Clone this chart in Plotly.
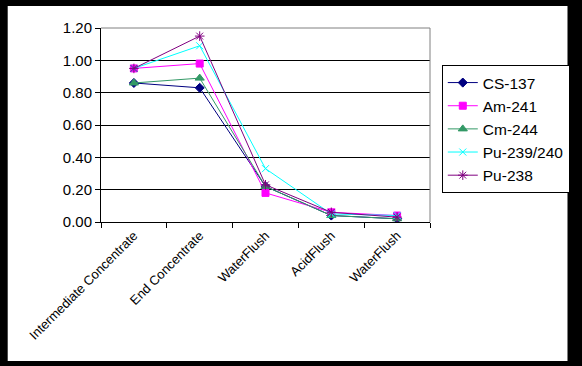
import plotly.graph_objects as go

stages = ["Intermediate Concentrate", "End Concentrate", "WaterFlush", "AcidFlush", "WaterFlush"]
x_pos = [0, 1, 2, 3, 4]

cs137 = [0.86, 0.83, 0.22, 0.04, 0.02]
am241 = [0.95, 0.98, 0.18, 0.06, 0.04]
cm244 = [0.86, 0.89, 0.22, 0.04, 0.02]
pu239 = [0.95, 1.09, 0.33, 0.05, 0.04]
pu238 = [0.95, 1.15, 0.23, 0.06, 0.03]

y_ticks = [0.0, 0.2, 0.4, 0.6, 0.8, 1.0, 1.2]
y_tick_text = ["0.00", "0.20", "0.40", "0.60", "0.80", "1.00", "1.20"]

series = [
    ("CS-137", cs137, "#000080", "diamond", 7),
    ("Am-241", am241, "#FF00FF", "square", 7),
    ("Cm-244", cm244, "#339966", "triangle-up", 8),
    ("Pu-239/240", pu239, "#00FFFF", "x-thin", 7),
    ("Pu-238", pu238, "#800080", "asterisk", 8),
]

fig = go.Figure()
for name, vals, color, sym, sz in series:
    fig.add_trace(go.Scatter(
        x=x_pos, y=vals, name=name, mode="lines+markers",
        line=dict(color=color, width=1),
        marker=dict(symbol=sym, size=sz, color=color,
                    line=dict(color=color, width=1)),
    ))

W, H = 582, 366
L, R, T, B = 101, 436, 28, 222
pw, ph = R - L, B - T

def px_x(p):
    return (p - L) / pw

def px_y(p):
    return (B - p) / ph

shapes = [
    dict(type="rect", xref="paper", yref="paper", layer="below",
         x0=px_x(6), x1=px_x(576), y0=px_y(361), y1=px_y(6),
         fillcolor="white", line=dict(width=0)),
    dict(type="line", xref="paper", yref="paper", x0=0, x1=1, y0=1, y1=1,
         line=dict(color="#808080", width=1)),
    dict(type="line", xref="paper", yref="paper", x0=1, x1=1, y0=0, y1=1,
         line=dict(color="#808080", width=1)),
]

fig.update_layout(
    width=W, height=H,
    margin=dict(l=L, r=W - R, t=T, b=H - B, pad=0),
    paper_bgcolor="black",
    plot_bgcolor="white",
    font=dict(family="Liberation Sans, Arial", color="black"),
    shapes=shapes,
    showlegend=True,
    legend=dict(
        x=px_x(448), y=px_y(65), xanchor="left", yanchor="top",
        bgcolor="white", bordercolor="black", borderwidth=1,
        font=dict(size=15.5, color="black"),
        tracegroupgap=0,
    ),
    xaxis=dict(
        range=[-0.5, 4.5], tickmode="array", tickvals=x_pos, ticktext=stages,
        tickangle=-45, tickfont=dict(size=13),
        ticks="", showgrid=False, zeroline=False,
        showline=True, linecolor="black", linewidth=1,
        minor=dict(ticks="outside", tick0=-0.5, dtick=1, ticklen=5,
                   tickcolor="black", showgrid=False),
        fixedrange=True,
    ),
    yaxis=dict(
        range=[0, 1.2], tickmode="array", tickvals=y_ticks, ticktext=y_tick_text,
        tickfont=dict(size=15), ticks="outside", ticklen=5, tickcolor="black",
        showgrid=True, gridcolor="black", gridwidth=1,
        zeroline=False, showline=True, linecolor="black", linewidth=1,
        fixedrange=True,
    ),
)

fig.write_html(
    "out.html",
    config={"displayModeBar": False},
    post_script="document.body.style.margin='0';document.body.style.padding='0';",
)
